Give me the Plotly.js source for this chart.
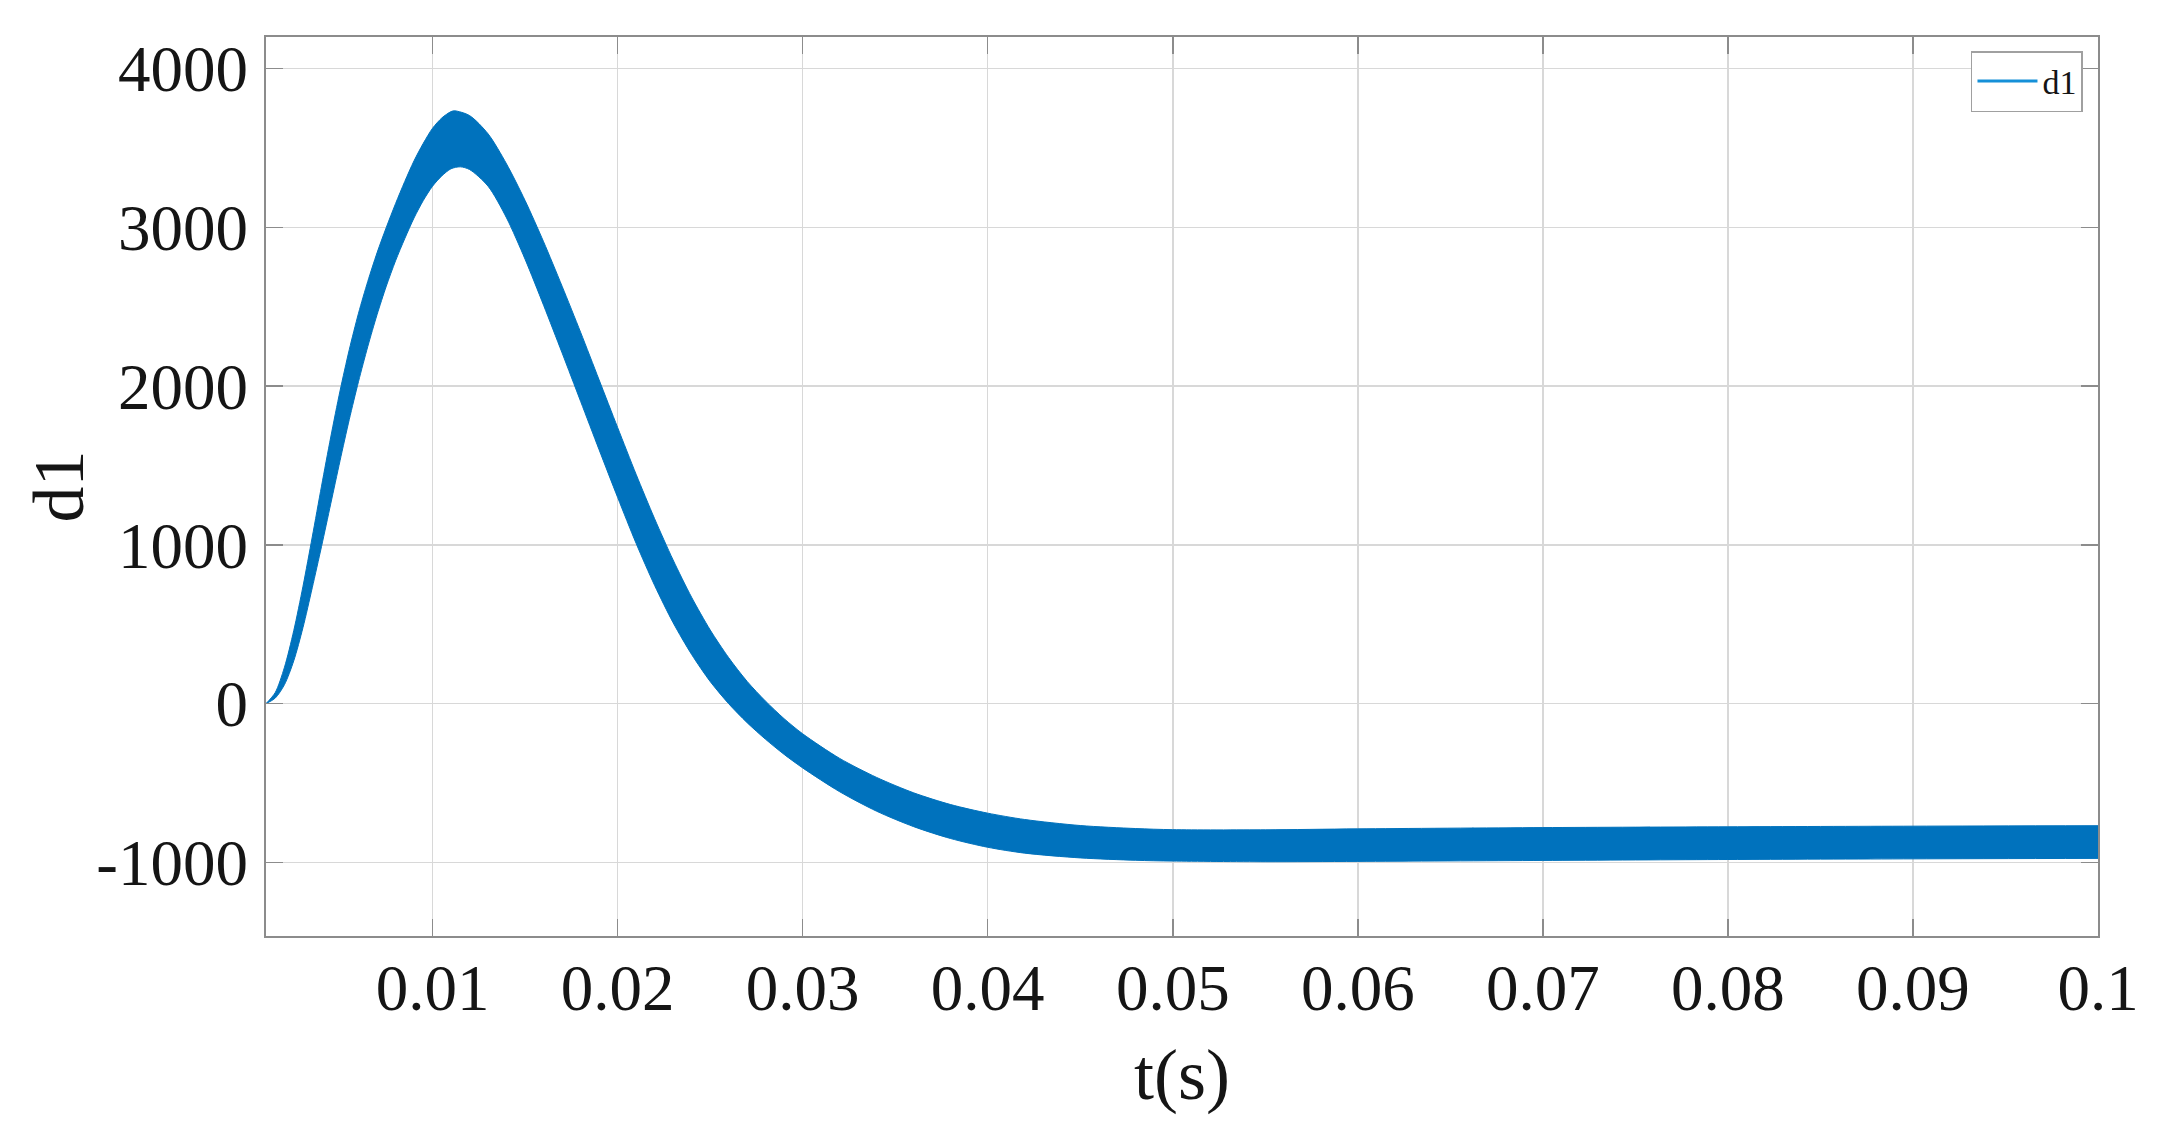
<!DOCTYPE html>
<html>
<head>
<meta charset="utf-8">
<script src="https://cdn.plot.ly/plotly-3.0.1.min.js"></script>
<style>
html,body{margin:0;padding:0;background:#ffffff;}
#chart{width:2160px;height:1131px;}
</style>
</head>
<body>
<div id="chart"></div>
<script>
// Upper envelope of the oscillating signal d1 (t in s, value)
const upperT = [0.0010,0.0015,0.0020,0.0025,0.0030,0.0035,0.0040,0.0045,0.0050,0.0055,0.0060,0.0065,0.0070,0.0075,0.0080,0.0085,0.0090,0.0095,0.0100,0.0105,0.0110,0.0112,0.0120,0.0130,0.0140,0.0150,0.0160,0.0170,0.0180,0.0190,0.0200,0.0210,0.0220,0.0230,0.0240,0.0250,0.0260,0.0270,0.0280,0.0290,0.0300,0.0320,0.0340,0.0360,0.0380,0.0400,0.0420,0.0450,0.0480,0.0500,0.0550,0.0600,0.0700,0.0800,0.0900,0.1000];
const upperY = [0,70,230,460,740,1050,1370,1680,1970,2230,2460,2660,2840,3000,3150,3290,3420,3530,3625,3690,3730,3735,3705,3590,3400,3170,2910,2630,2340,2040,1740,1445,1165,905,670,465,290,140,15,-95,-190,-345,-465,-562,-636,-690,-730,-768,-787,-794,-795,-789,-781,-776,-772,-769];
// Lower envelope of the oscillating signal d1
const lowerT = [0.0010,0.0015,0.0020,0.0025,0.0030,0.0035,0.0040,0.0045,0.0050,0.0055,0.0060,0.0065,0.0070,0.0075,0.0080,0.0085,0.0090,0.0095,0.0100,0.0105,0.0110,0.0115,0.0120,0.0130,0.0140,0.0150,0.0160,0.0170,0.0180,0.0190,0.0200,0.0210,0.0220,0.0230,0.0240,0.0250,0.0260,0.0270,0.0280,0.0290,0.0300,0.0320,0.0340,0.0360,0.0380,0.0400,0.0420,0.0450,0.0480,0.0500,0.0550,0.0600,0.0700,0.0800,0.0900,0.1000];
const lowerY = [0,35,120,270,480,730,990,1260,1530,1790,2030,2250,2450,2630,2790,2930,3060,3170,3260,3325,3370,3382,3365,3260,3060,2800,2510,2210,1905,1600,1300,1010,745,510,310,140,0,-120,-225,-320,-405,-555,-678,-775,-850,-905,-942,-972,-987,-992,-996,-994,-988,-982,-978,-975];

const xTickVals = [0.01,0.02,0.03,0.04,0.05,0.06,0.07,0.08,0.09,0.1];
const xTickText = ['0.01','0.02','0.03','0.04','0.05','0.06','0.07','0.08','0.09','0.1'];
const yTickVals = [-1000,0,1000,2000,3000,4000];
const yTickText = ['-1000','0','1000','2000','3000','4000'];
const seriesName = 'd1';
const xTitle = 't(s)';
const yTitle = 'd1';

const FONT = '"Liberation Serif", "Times New Roman", serif';
const BLUE = '#0072BD';

const traces = [
  {
    x: lowerT, y: lowerY, type: 'scatter', mode: 'lines',
    line: {color: BLUE, width: 1, shape: 'spline', smoothing: 0.8},
    showlegend: false, hoverinfo: 'skip'
  },
  {
    x: upperT, y: upperY, type: 'scatter', mode: 'lines',
    fill: 'tonexty', fillcolor: BLUE,
    line: {color: BLUE, width: 1, shape: 'spline', smoothing: 0.8},
    showlegend: false, hoverinfo: 'skip'
  },
  {
    x: [null], y: [null], type: 'scatter', mode: 'lines',
    name: seriesName,
    line: {color: '#1590d8', width: 3},
    showlegend: true
  }
];

const axisCommon = {
  showgrid: true, gridcolor: '#d8d8d8', gridwidth: 1.5,
  zeroline: false, showline: true, linecolor: '#8c8c8c', linewidth: 2,
  mirror: 'ticks', ticks: 'inside', ticklen: 17, tickwidth: 1.5, tickcolor: '#8c8c8c',
  tickmode: 'array', automargin: false,
  tickfont: {family: FONT, size: 65, color: '#151515'}
};

const layout = {
  width: 2160, height: 1131,
  paper_bgcolor: '#ffffff', plot_bgcolor: '#ffffff',
  margin: {l: 266, r: 62, t: 37, b: 195},
  showlegend: true,
  xaxis: Object.assign({}, axisCommon, {
    range: [0.001, 0.1], tickvals: xTickVals, ticktext: xTickText,
    ticklabelstandoff: -6,
    title: {text: xTitle, font: {family: FONT, size: 72, color: '#151515'}, standoff: 26}
  }),
  yaxis: Object.assign({}, axisCommon, {
    range: [-1464, 4200], tickvals: yTickVals, ticktext: yTickText,
    ticklabelstandoff: 3
  }),
  annotations: [{
    text: yTitle, xref: 'paper', yref: 'paper', x: -0.1135, y: 0.5,
    xanchor: 'center', yanchor: 'middle', textangle: -90, showarrow: false,
    font: {family: FONT, size: 72, color: '#151515'}
  }],
  legend: {
    x: 0.9918, xanchor: 'right', y: 0.9844, yanchor: 'top',
    bgcolor: '#ffffff', bordercolor: '#a0a0a0', borderwidth: 1.5,
    font: {family: FONT, size: 34, color: '#151515'},
    itemwidth: 60, tracegroupgap: 0
  }
};

Plotly.newPlot('chart', traces, layout, {staticPlot: true, displayModeBar: false});
</script>
</body>
</html>
